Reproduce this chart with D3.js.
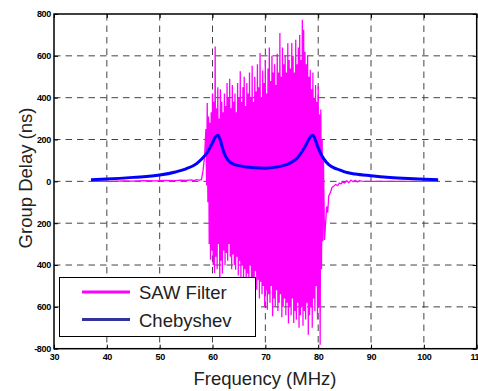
<!DOCTYPE html>
<html>
<head>
<meta charset="utf-8">
<script src="https://cdn.jsdelivr.net/npm/d3@7"></script>
<style>
  body { margin: 0; background: #fff; }
  svg { display: block; font-family: "Liberation Sans", Arial, sans-serif; }
</style>
</head>
<body>
<script>
// axis ticks
const xTicks = [30, 40, 50, 60, 70, 80, 90, 100, 110];
const yTicks = [800, 600, 400, 200, 0, -200, -400, -600, -800];
const yTickLabels = ["800", "600", "400", "200", "0", "200", "400", "600", "-800"];

// Chebyshev group delay (ns)
const chebFreq = [37, 40, 45, 50, 53, 55, 57, 58, 59, 59.5, 60, 60.5, 61, 61.5, 62, 62.5, 63, 64, 65, 66, 67, 68, 70, 72, 74, 75, 76, 77, 77.5, 78, 78.5, 79, 79.5, 80, 80.5, 81, 82, 83, 84, 85, 87, 90, 93, 96, 100, 102.7];
const chebDelay = [8, 11, 19, 30, 45, 60, 85, 108, 138, 160, 185, 210, 220, 195, 150, 118, 100, 82, 75, 70, 67, 65, 63, 68, 80, 92, 110, 145, 165, 190, 212, 220, 195, 160, 132, 110, 80, 64, 55, 45, 35, 27, 20, 15, 10, 8];

// SAW filter, outside the passband
const sawPreFreq = [37, 39, 41, 43, 45, 47, 49, 51, 53, 54, 55, 56, 56.5, 57, 57.5, 57.9, 58.2, 58.5];
const sawPreDelay = [0, 1, 0, 2, 1, 3, 2, 4, 3, 6, 4, 7, 3, 8, 6, 8, 50, 120];
const sawPostFreq = [81.2, 81.4, 81.6, 81.8, 82.0, 82.3, 82.6, 82.9, 83.3, 83.7, 84.0, 84.3, 84.6, 85.0, 85.4, 85.8, 86.2, 86.6, 87.0, 87.4, 87.8, 88.2, 89, 95, 102.7];
const sawPostDelay = [-280, -200, -120, -150, -70, -55, -30, -24, -15, -20, -8, -12, -3, -8, 2, -6, 6, -2, 5, -3, 3, 1, 0, 0, 0];

// SAW filter, passband ripple: peaks every 0.25 MHz from 58.75, troughs in between
const sawBandStart = 58.75;
const sawBandStep = 0.125;
const sawPeaks = [250,
  375, 310, 280, 330,
  420, 380, 645, 350,
  450, 300, 440, 380,
  330, 420, 360, 470,
  400, 490, 350, 460,
  380, 420, 330, 470,
  400, 526, 380, 450,
  500, 360, 470, 420,
  520, 400, 553, 380,
  500, 430, 560, 450,
  614, 400, 530, 470,
  580, 420, 540, 640,
  480, 600, 520, 560,
  460, 610, 520, 709,
  500, 640, 560, 600,
  520, 660, 580, 540,
  661, 600, 520, 677,
  560, 640, 700, 580,
  773, 725, 620, 560,
  600, 500, 534, 440,
  520, 400, 460, 380,
  454, 320, 343, 200,
  100];
const sawTroughs = [-20, -100, -300, -375, -330,
  -400, -438, -360, -420,
  -300, -502, -380, -440,
  -330, -400, -342, -380,
  -300, -360, -420, -350,
  -400, -422, -360, -450,
  -380, -470, -400, -500,
  -420, -518, -440, -480,
  -400, -510, -460, -520,
  -430, -518, -470, -560,
  -480, -540, -500, -600,
  -520, -614, -540, -580,
  -500, -645, -560, -600,
  -520, -620, -580, -540,
  -650, -600, -560, -640,
  -580, -680, -600, -640,
  -560, -677, -620, -660,
  -580, -700, -640, -600,
  -690, -620, -660, -580,
  -733, -640, -600, -700,
  -560, -620, -500, -660,
  -600, -781, -420, -287];

const width = 478, height = 391;
const plotLeft = 54, plotRight = 476.7, plotTop = 14, plotBottom = 348.7;

const svg = d3.select("body").append("svg").attr("width", width).attr("height", height);

const x = d3.scaleLinear().domain([30, 110]).range([plotLeft, plotRight]);
const y = d3.scaleLinear().domain([-800, 800]).range([plotBottom, plotTop]);

// grid
svg.append("g").selectAll("line").data(xTicks.slice(1, -1)).enter().append("line")
   .attr("x1", d => x(d)).attr("x2", d => x(d)).attr("y1", plotTop).attr("y2", plotBottom)
   .attr("stroke", "#444").attr("stroke-width", 1).attr("stroke-dasharray", "6.5,5");
svg.append("g").selectAll("line").data(yTicks.slice(1, -1)).enter().append("line")
   .attr("y1", d => y(d)).attr("y2", d => y(d)).attr("x1", plotLeft).attr("x2", plotRight)
   .attr("stroke", "#444").attr("stroke-width", 1).attr("stroke-dasharray", "6.5,5");

// build SAW series
let saw = sawPreFreq.map((f, i) => [f, sawPreDelay[i]]);
sawPeaks.forEach((p, i) => {
  saw.push([sawBandStart + 2 * i * sawBandStep, p]);
  if (i < sawTroughs.length) saw.push([sawBandStart + (2 * i + 1) * sawBandStep, sawTroughs[i]]);
});
saw = saw.concat(sawPostFreq.map((f, i) => [f, sawPostDelay[i]]));
const cheb = chebFreq.map((f, i) => [f, chebDelay[i]]);

const line = d3.line().x(d => x(d[0])).y(d => y(d[1]));

svg.append("path").datum(saw).attr("d", line)
   .attr("fill", "none").attr("stroke", "#ff00ff").attr("stroke-width", 1.3);
svg.append("path").datum(cheb).attr("d", line.curve(d3.curveMonotoneX))
   .attr("fill", "none").attr("stroke", "#0000ff").attr("stroke-width", 3);

// axes: ticks inside on all four sides
const tickLen = 4;
svg.append("g").attr("transform", `translate(0,${plotBottom})`)
   .call(d3.axisBottom(x).tickValues(xTicks).tickSize(-tickLen).tickPadding(5).tickFormat(d3.format("d")));
svg.append("g").attr("transform", `translate(0,${plotTop})`)
   .call(d3.axisTop(x).tickValues(xTicks).tickSize(-tickLen).tickFormat(""));
svg.append("g").attr("transform", `translate(${plotLeft},0)`)
   .call(d3.axisLeft(y).tickValues(yTicks).tickSize(-tickLen).tickPadding(3).tickFormat((d, i) => yTickLabels[i]));
svg.append("g").attr("transform", `translate(${plotRight},0)`)
   .call(d3.axisRight(y).tickValues(yTicks).tickSize(-tickLen).tickFormat(""));

svg.selectAll(".domain").remove();
svg.selectAll(".tick line").attr("stroke", "#000").attr("stroke-width", 1);
svg.selectAll(".tick text").attr("font-size", 9).attr("font-weight", "bold")
   .attr("font-family", "'Liberation Sans', Arial, sans-serif").attr("fill", "#000")
   .attr("letter-spacing", -0.3);

svg.append("rect").attr("x", plotLeft).attr("y", plotTop).attr("width", plotRight - plotLeft).attr("height", plotBottom - plotTop)
   .attr("fill", "none").attr("stroke", "#000").attr("stroke-width", 1.5);

// axis titles
svg.append("text").attr("x", 265).attr("y", 385).attr("text-anchor", "middle")
   .attr("font-size", 18.5).attr("fill", "#222").text("Frequency (MHz)");
svg.append("text").attr("transform", "translate(32,178) rotate(-90)").attr("text-anchor", "middle")
   .attr("font-size", 18.5).attr("fill", "#222").text("Group Delay (ns)");

// legend
const legend = svg.append("g");
legend.append("rect").attr("x", 59.5).attr("y", 277.5).attr("width", 196).attr("height", 59)
   .attr("fill", "#fff").attr("stroke", "#000").attr("stroke-width", 1);
const legendItems = [["SAW Filter", "#ff00ff", 292], ["Chebyshev", "#33339f", 319.5]];
legendItems.forEach(d => {
  legend.append("line").attr("x1", 82).attr("x2", 130).attr("y1", d[2]).attr("y2", d[2])
        .attr("stroke", d[1]).attr("stroke-width", 3);
  legend.append("text").attr("x", 139).attr("y", d[2] + 7).attr("font-size", 18.5)
        .attr("fill", "#222").text(d[0]);
});
</script>
</body>
</html>
